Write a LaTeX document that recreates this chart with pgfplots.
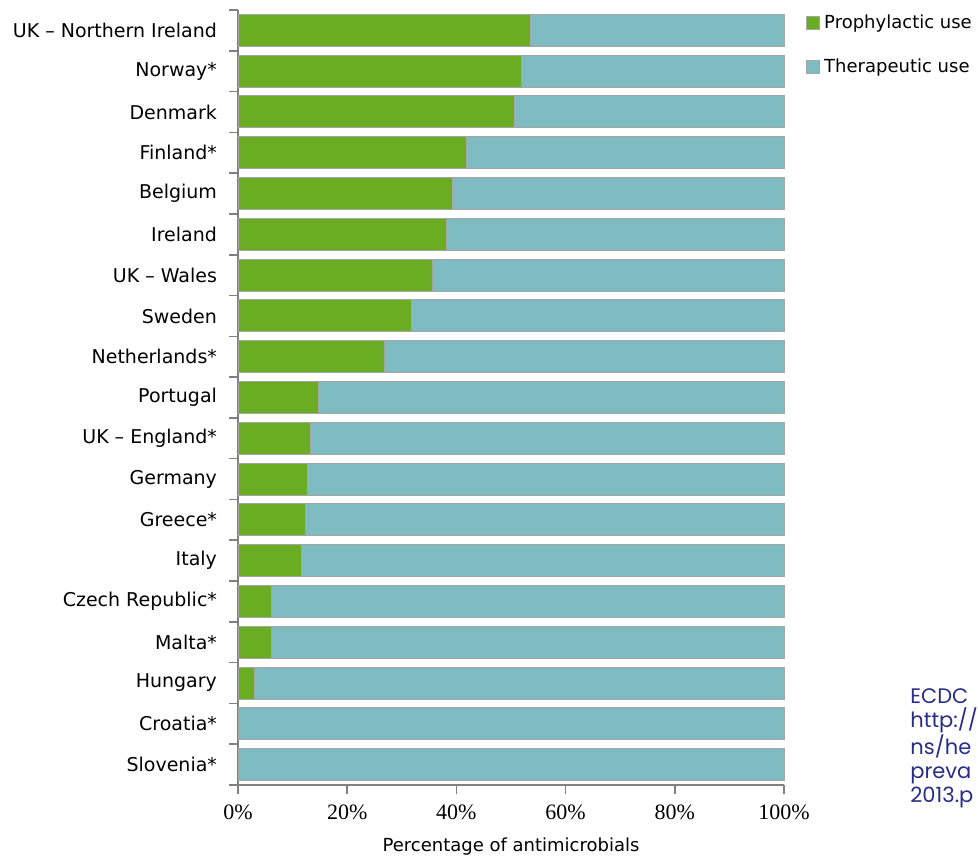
\documentclass[border=0pt]{standalone}
\usepackage{pgfplots}
\pgfplotsset{compat=1.18}
\usepackage{pgfplotstable}
\usepackage{fontspec}
\setmainfont{Liberation Serif}
\newfontfamily\dejavu{DejaVu Sans}
\newfontfamily\gothic{Poppins}
\definecolor{proph}{RGB}{106,173,34}
\definecolor{thera}{RGB}{126,188,194}
\definecolor{srcblue}{RGB}{40,45,135}

% idx 0 = top bar
\pgfplotstableread{
idx pro  ther
0   53.5 46.5
1   52.0 48.0
2   50.7 49.3
3   41.9 58.1
4   39.2 60.8
5   38.1 61.9
6   35.7 64.3
7   31.7 68.3
8   26.9 73.1
9   14.7 85.3
10  13.2 86.8
11  12.8 87.2
12  12.3 87.7
13  11.7 88.3
14  6.2  93.8
15  6.2  93.8
16  3.1  96.9
17  0    100
18  0    100
}\usetable

\begin{document}
\begin{tikzpicture}
\begin{axis}[
    at={(119pt,35.5pt)}, anchor=south west,
    scale only axis, width=273pt, height=387.5pt,
    xbar stacked, bar width=16pt,
    xmin=0, xmax=100, ymin=-0.5, ymax=18.5, y dir=reverse,
    ytick={-0.5,0.5,...,18.5}, yticklabels={},
    extra y ticks={0,...,18},
    extra y tick labels={
    {UK \textendash\ Northern Ireland},{Norway*},{Denmark},{Finland*},{Belgium},
    {Ireland},{UK \textendash\ Wales},{Sweden},{Netherlands*},{Portugal},
    {UK \textendash\ England*},{Germany},{Greece*},{Italy},{Czech Republic*},
    {Malta*},{Hungary},{Croatia*},{Slovenia*}},
    extra y tick style={major tick length=0pt,
        yticklabel style={font=\dejavu\fontsize{9.5}{11}\selectfont, xshift=-7pt}},
    tick align=outside, major tick length=4.5pt,
    xtick={0,20,...,100},
    xticklabel={\pgfmathprintnumber{\tick}\%},
    axis x line*=bottom, axis y line*=left,
    axis line style={gray, line width=0.8pt},
    every tick/.style={gray, line width=0.8pt},
    xticklabel style={font=\fontsize{11}{12}\selectfont, yshift=-2pt,
        /pgf/number format/assume math mode=true},
    xlabel={Percentage of antimicrobials},
    xlabel style={font=\dejavu\fontsize{9}{11}\selectfont, yshift=-2pt},
    legend style={at={(1.04,1)}, anchor=north west, draw=none, fill=none,
        font=\dejavu\fontsize{9}{11}\selectfont, row sep=10pt,
        inner sep=0pt},
    legend cell align=left,
    legend image code/.code={\fill[#1] (-4pt,-3.25pt) rectangle (2.5pt,3.25pt);},
    clip=false,
]
\addplot[fill=proph, draw=gray!70, line width=0.5pt] table[x=pro, y=idx] {\usetable};
\addplot[fill=thera, draw=gray!70, line width=0.5pt] table[x=ther, y=idx] {\usetable};
\legend{Prophylactic use, Therapeutic use}
\end{axis}
\node[anchor=north west, align=left, inner sep=0pt, text=srcblue,
      font=\gothic\fontsize{10.5}{12}\selectfont] at (455pt,84pt)
  {ECDC\\http://\\ns/he\\preva\\2013.p};
\pgfresetboundingbox
\useasboundingbox (0,0) rectangle (489pt,428pt);
\end{tikzpicture}
\end{document}
